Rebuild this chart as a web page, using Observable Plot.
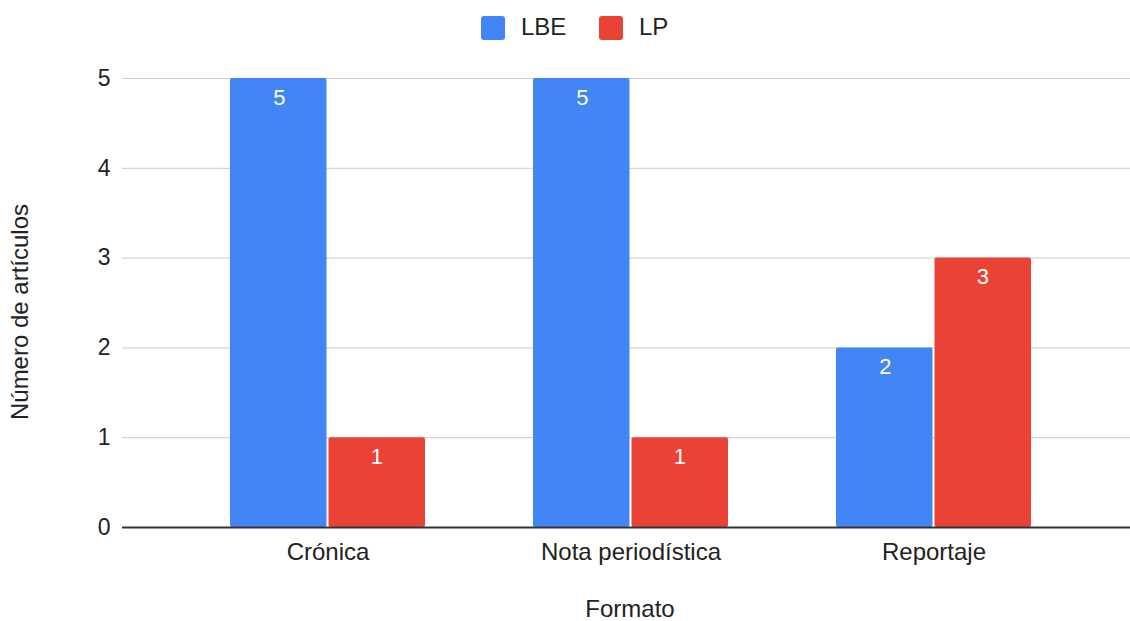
<!DOCTYPE html>
<html><head><meta charset="utf-8">
<script src="https://cdn.jsdelivr.net/npm/d3@7"></script>
<script src="https://cdn.jsdelivr.net/npm/@observablehq/plot@0.6"></script>
<style>
body{margin:0;background:#fff;font-family:"Liberation Sans",Arial,sans-serif;}
#wrap{position:relative;width:1130px;height:621px;overflow:hidden;}
#legend{position:absolute;top:0;left:0;width:1130px;height:58px;}
.sw{position:absolute;top:16px;width:24px;height:24px;border-radius:3px;}
.lt{position:absolute;top:14px;font-size:24px;color:#222;line-height:26px;}
#chart{position:absolute;top:58px;left:0;}
.ttl{position:absolute;font-size:24px;color:#222;white-space:nowrap;}
</style></head>
<body><div id="wrap">
<div id="legend"></div>
<div id="chart"></div>
<div class="ttl" id="xt" style="left:630px;top:595px;transform:translateX(-50%);"></div>
<div class="ttl" id="yt" style="left:20px;top:312px;transform:translate(-50%,-50%) rotate(-90deg);"></div>
</div>
<script>
const categories = ["Crónica", "Nota periodística", "Reportaje"];
const series = ["LBE", "LP"];
const lbeValues = [5, 5, 2];
const lpValues = [1, 1, 3];
const yTicks = [0, 1, 2, 3, 4, 5];
const colors = ["#4285F4", "#EA4335"];
const xTitle = "Formato";
const yTitle = "Número de artículos";

const data = [];
categories.forEach((c, i) => {
  data.push({cat: c, series: "LBE", value: lbeValues[i]});
  data.push({cat: c, series: "LP", value: lpValues[i]});
});
const lbe = data.filter(d => d.series === "LBE");
const lp = data.filter(d => d.series === "LP");

const half = 97.5;
const chart = Plot.plot({
  width: 1130,
  height: 563,
  marginLeft: 122,
  marginRight: 0,
  marginTop: 20,
  marginBottom: 94,
  style: {fontFamily: "'Liberation Sans', Arial, sans-serif", background: "#fff"},
  x: {domain: categories, range: [229, 1031], paddingInner: 0.357, paddingOuter: 0, label: null},
  y: {domain: [0, 5], label: null},
  color: {domain: series, range: colors},
  marks: [
    Plot.ruleY(yTicks.filter(t => t > 0), {stroke: "#cccccc", strokeWidth: 1}),
    Plot.barY(lbe, {x: "cat", y: "value", fill: d => d.series, insetRight: half + 1, insetLeft: 0, rx: 2}),
    Plot.barY(lp, {x: "cat", y: "value", fill: d => d.series, insetLeft: half + 1, insetRight: 0, rx: 2}),
    Plot.text(lbe, {x: "cat", y: "value", text: d => String(d.value), dx: -half / 2, dy: 19, fill: "white", fontSize: 22, lineAnchor: "middle"}),
    Plot.text(lp, {x: "cat", y: "value", text: d => String(d.value), dx: half / 2, dy: 19, fill: "white", fontSize: 22, lineAnchor: "middle"}),
    Plot.ruleY([0], {stroke: "#333333", strokeWidth: 2}),
    Plot.axisY({ticks: yTicks, tickSize: 0, tickPadding: 12, fontSize: 23, label: null, tickFormat: d => String(d), color: "#222"}),
    Plot.axisX({tickSize: 0, tickPadding: 15, fontSize: 24, label: null, color: "#222"})
  ]
});
document.getElementById("chart").appendChild(chart);

// legend
const leg = document.getElementById("legend");
const pos = [{sw: 481, tx: 521}, {sw: 599, tx: 639}];
series.forEach((s, i) => {
  const sw = document.createElement("div");
  sw.className = "sw"; sw.style.left = pos[i].sw + "px"; sw.style.background = colors[i];
  leg.appendChild(sw);
  const t = document.createElement("div");
  t.className = "lt"; t.style.left = pos[i].tx + "px"; t.textContent = s;
  leg.appendChild(t);
});
document.getElementById("xt").textContent = xTitle;
document.getElementById("yt").textContent = yTitle;
</script>
</body></html>
